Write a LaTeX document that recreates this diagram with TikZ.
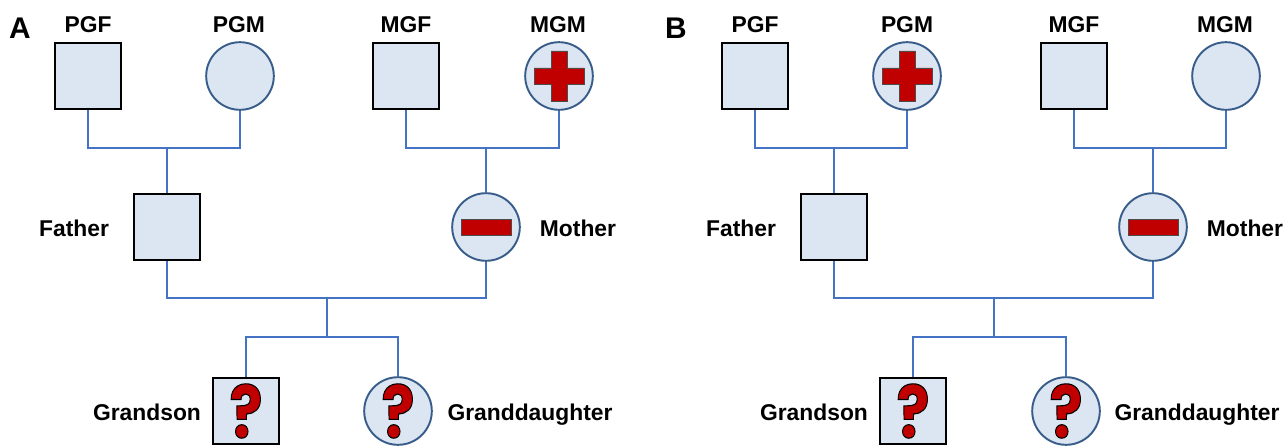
\documentclass[tikz,border=0pt]{standalone}
\usepackage{graphicx}
\usepackage{fontspec}
\setmainfont{Liberation Sans}
\newfontfamily\markfont{Poppins}
\usetikzlibrary{calc}
\definecolor{boxfill}{HTML}{DCE6F2}
\definecolor{linkblue}{HTML}{4472C4}
\definecolor{ringblue}{HTML}{385D8A}
\definecolor{markred}{HTML}{C00000}
\newcommand{\qmark}{\scalebox{0.9}[1.06]{\textcolor{markred}{\special{pdf:code 2 Tr 0.6 w 0 0 0 RG}\markfont\fontsize{39}{39}\selectfont\bfseries ?\special{pdf:code 0 Tr}}}}
\tikzstyle{male} = [rectangle, minimum size = 38pt, inner sep = 0pt, line width = 1.1pt, draw = black, fill = boxfill]
\tikzstyle{female} = [circle, minimum size = 38.5pt, inner sep = 0pt, line width = 1.1pt, draw = ringblue, fill = boxfill]
\tikzstyle{plusmark} = [path picture = {\draw [fill = markred, draw = black!70, line width = 0.3pt] ($(path picture bounding box.center)+(-8,-25)$) -- ++(16,0) -- ++(0,17) -- ++(17,0) -- ++(0,16) -- ++(-17,0) -- ++(0,17) -- ++(-16,0) -- ++(0,-17) -- ++(-17,0) -- ++(0,-16) -- ++(17,0) -- cycle;}]
\tikzstyle{minusmark} = [path picture = {\draw [fill = markred, draw = black!70, line width = 0.3pt] ($(path picture bounding box.center)+(-25,-8)$) rectangle ++(50,16);}]
\tikzstyle{tag} = [font = \fontsize{13}{14}\selectfont\bfseries, inner sep = 0pt, anchor = base]
\tikzstyle{panel} = [font = \fontsize{17}{18}\selectfont\bfseries, inner sep = 0pt]
\tikzstyle{link} = [line width = 1.1pt, linkblue]

\begin{document}
\begin{tikzpicture}[x = 0.02cm, y = -0.02cm]
\useasboundingbox (0,0) rectangle (1287,446);

% panel A
\node (labela) [panel] at (20,28) {A};
\node (PGFa) [male] at (88,76) {};
\node (PGMa) [female] at (240,76) {};
\node (MGFa) [male] at (406,76) {};
\node (MGMa) [female, plusmark] at (559,76) {};
\node (Fathera) [male] at (167,227) {};
\node (Mothera) [female, minusmark] at (486,227) {};
\node (Grandsona) [male] at (246,411) {\qmark};
\node (Granddaughtera) [female] at (398,411) {\qmark};

\node (tPGFa) [tag] at (88,33) {PGF};
\node (tPGMa) [tag] at (239,33) {PGM};
\node (tMGFa) [tag] at (406,33) {MGF};
\node (tMGMa) [tag] at (558,33) {MGM};
\node (tFathera) [tag] at (74,236) {Father};
\node (tMothera) [tag] at (578,236) {Mother};
\node (tGrandsona) [tag] at (147,420) {Grandson};
\node (tGranddaughtera) [tag] at (530,420) {Granddaughter};

\coordinate (patera) at (167,148);
\coordinate (matera) at (486,148);
\coordinate (parentsa) at (327,298);
\coordinate (childrena) at (327,337);

\draw [link] (PGFa.south) |- (patera) -| (PGMa.south);
\draw [link] (patera) -- (Fathera.north);
\draw [link] (MGFa.south) |- (matera) -| (MGMa.south);
\draw [link] (matera) -- (Mothera.north);
\draw [link] (Fathera.south) |- (parentsa) -| (Mothera.south);
\draw [link] (parentsa) -- (childrena);
\draw [link] (Grandsona.north) |- (childrena) -| (Granddaughtera.north);

% panel B
\node (labelb) [panel] at (676,28) {B};
\node (PGFb) [male] at (755,76) {};
\node (PGMb) [female, plusmark] at (907,76) {};
\node (MGFb) [male] at (1074,76) {};
\node (MGMb) [female] at (1226,76) {};
\node (Fatherb) [male] at (834,227) {};
\node (Motherb) [female, minusmark] at (1153,227) {};
\node (Grandsonb) [male] at (913,411) {\qmark};
\node (Granddaughterb) [female] at (1066,411) {\qmark};

\node (tPGFb) [tag] at (755,33) {PGF};
\node (tPGMb) [tag] at (907,33) {PGM};
\node (tMGFb) [tag] at (1074,33) {MGF};
\node (tMGMb) [tag] at (1225,33) {MGM};
\node (tFatherb) [tag] at (741,236) {Father};
\node (tMotherb) [tag] at (1245,236) {Mother};
\node (tGrandsonb) [tag] at (814,420) {Grandson};
\node (tGranddaughterb) [tag] at (1197,420) {Granddaughter};

\coordinate (paterb) at (834,148);
\coordinate (materb) at (1153,148);
\coordinate (parentsb) at (994,298);
\coordinate (childrenb) at (994,337);

\draw [link] (PGFb.south) |- (paterb) -| (PGMb.south);
\draw [link] (paterb) -- (Fatherb.north);
\draw [link] (MGFb.south) |- (materb) -| (MGMb.south);
\draw [link] (materb) -- (Motherb.north);
\draw [link] (Fatherb.south) |- (parentsb) -| (Motherb.south);
\draw [link] (parentsb) -- (childrenb);
\draw [link] (Grandsonb.north) |- (childrenb) -| (Granddaughterb.north);

\end{tikzpicture}
\end{document}
